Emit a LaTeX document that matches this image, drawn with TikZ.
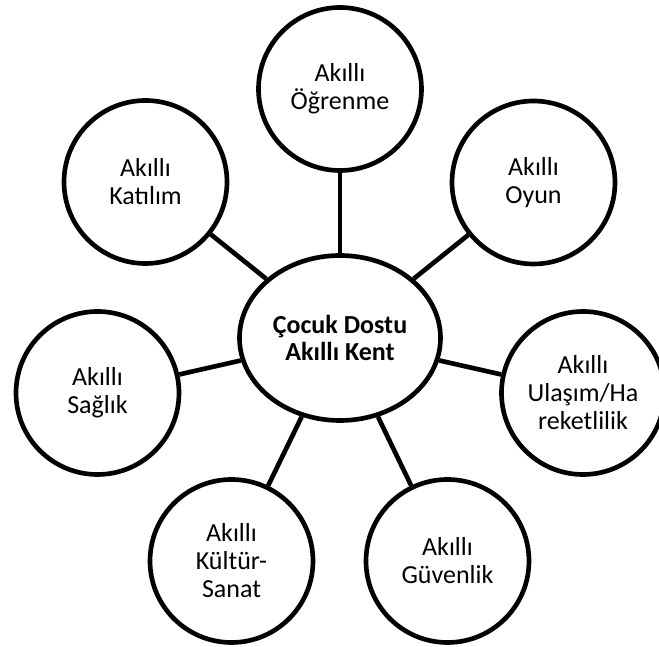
\documentclass[tikz,border=0pt]{standalone}
\usepackage{fontspec}
\setmainfont{Carlito}
\usepackage{tikz}
\usetikzlibrary{shapes.geometric}

\tikzset{
  bubble/.style={draw=black, line width=2.65pt, circle, minimum size=3.26cm, inner sep=0pt, align=center, font=\fontsize{14.8}{15.9}\selectfont},
  hub/.style={draw=black, line width=2.65pt, ellipse, minimum width=4.02cm, minimum height=3.3cm, inner sep=0pt, align=center, font=\fontsize{14.8}{15.9}\selectfont\bfseries},
  link/.style={line width=2.65pt}
}

\begin{document}
\begin{tikzpicture}
  \useasboundingbox (0,0) rectangle (13.18,-12.94);

  % Central node
  \node[hub] (kent) at (6.8,-6.76) {Çocuk Dostu\\Akıllı Kent};

  % Surrounding circles
  \node[bubble] (ogrenme) at (6.8,-1.78) {Akıllı\\Öğrenme};
  \node[bubble] (katilim) at (2.91,-3.64) {Akıllı\\Katılım};
  \node[bubble] (oyun) at (10.67,-3.65) {Akıllı\\Oyun};
  \node[bubble] (saglik) at (1.95,-7.86) {Akıllı\\Sağlık};
  \node[bubble] (ulasim) at (11.66,-7.86) {Akıllı\\Ulaşım/Ha\\reketlilik};
  \node[bubble] (kultur) at (4.63,-11.22) {Akıllı\\Kültür-\\Sanat};
  \node[bubble] (guvenlik) at (8.95,-11.22) {Akıllı\\Güvenlik};

  % Links
  \foreach \n in {ogrenme,katilim,oyun,saglik,ulasim,kultur,guvenlik}{
    \draw[link] (kent) -- (\n);
  }
\end{tikzpicture}
\end{document}
